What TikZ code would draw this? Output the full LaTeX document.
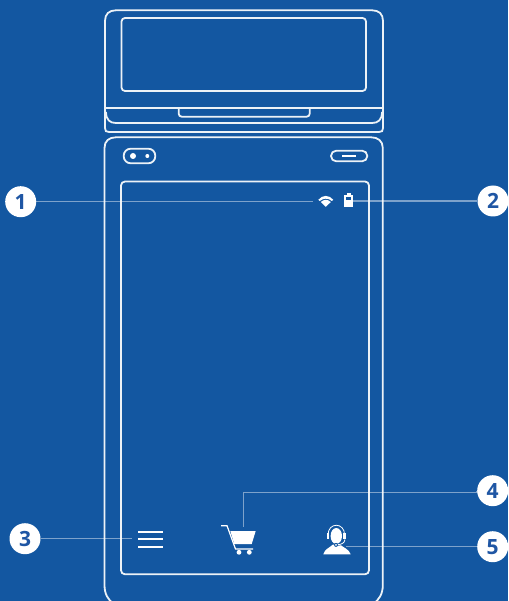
\documentclass[tikz,border=0pt]{standalone}
\usepackage{fontspec}
\setmainfont{Open Sans}
\definecolor{bg}{HTML}{1357A1}
\definecolor{numc}{HTML}{1F56A4}
\tikzset{
  outline/.style={draw=white!92!bg,line width=1.8pt},
  leader/.style={draw=white,draw opacity=0.45,line width=1.1pt},
  num/.style={circle,fill=white,minimum size=31pt,inner sep=0pt,text=numc,font=\fontsize{21}{21}\selectfont\bfseries},
  iconline/.style={draw=white,line width=2pt},
}
\begin{document}
\begin{tikzpicture}[x=1pt,y=-1pt]
\useasboundingbox (0,0) rectangle (508,601);
\clip (0,0) rectangle (508,601);
\fill[bg] (0,0) rectangle (508,601);
% upper printer unit
\draw[outline] (105,21) .. controls (105,14) and (109,10.3) .. (116,10.3) -- (372,10.3) .. controls (379,10.3) and (383,14) .. (383,21) -- (383,128) .. controls (383,131) and (382,132) .. (379,132) -- (109,132) .. controls (106,132) and (105,131) .. (105,128) -- cycle;
\draw[outline,rounded corners=3.5pt] (121.5,18) rectangle (366,91);
\draw[outline] (105,107.7) -- (383,107.7);
\draw[outline] (106,112) .. controls (106,120) and (110,123) .. (116,123) -- (372,123) .. controls (378,123) and (382,120) .. (382,112);
\draw[outline,rounded corners=3pt] (178.7,108) -- (178.7,116.7) -- (309.7,116.7) -- (309.7,108);
% main body
\draw[outline] (114,604) .. controls (108,600) and (104.5,594) .. (104.5,585) -- (104.5,148) .. controls (104.5,141) and (109,137.3) .. (116,137.3) -- (371,137.3) .. controls (378,137.3) and (382.8,141) .. (382.8,148) -- (382.8,585) .. controls (382.8,594) and (379,600) .. (373,604);
\draw[outline,rounded corners=4pt] (121,181.5) rectangle (369,574.3);
% camera pill
\draw[outline,rounded corners=7pt] (123.7,148.7) rectangle (155.3,163.3);
\fill[white] (133,156) circle[radius=3];
\fill[white] (147.3,156) circle[radius=2];
% speaker pill
\draw[outline,rounded corners=5.2pt] (331,150.7) rectangle (367.3,161.3);
\draw[draw=white,line width=2pt] (342.3,156) -- (356,156);
% wifi
\fill[white] (318.3,199.8) .. controls (322.5,194.6) and (329,194.6) .. (333.3,199.8) -- (331.9,201) .. controls (328,197.9) and (323.6,197.9) .. (319.8,201) -- cycle;
\fill[white] (320.8,202) .. controls (323.8,199.1) and (327.8,199.1) .. (330.8,202) -- (325.8,206.8) -- cycle;
% battery
\fill[white] (346.6,193.2) rectangle (350.6,195.5);
\fill[white] (344.4,195.2) rectangle (352.8,207.4);
\fill[bg] (345.8,197) rectangle (351.4,199.6);
% hamburger
\draw[iconline] (138.3,531.7) -- (163.3,531.7);
\draw[iconline] (138.3,539) -- (163.3,539);
\draw[iconline] (138.3,546.6) -- (163.3,546.6);
% cart
\draw[draw=white,line width=1.2pt] (221,525.7) -- (227,525.7) -- (235.5,549) -- (253,549);
\fill[white] (230.3,531) -- (255.7,531) -- (251.7,544) -- (234.3,544) -- cycle;
\fill[white] (239,552.3) circle[radius=2.4];
\fill[white] (249.3,552.3) circle[radius=2.4];
% agent
\fill[white] (323.3,554.3) .. controls (324.5,549) and (330,547.5) .. (333,544.5) -- (340,544.5) .. controls (343,547.5) and (349,549) .. (350.7,554.3) -- cycle;
\fill[white] (336.3,536) ellipse[x radius=5.7,y radius=8];
\draw[draw=white,line width=0.8pt] (328,535) .. controls (328,522) and (344.6,522) .. (344.6,535);
\fill[white] (327,533) rectangle (329.4,538.5);
\fill[white] (343.3,533) rectangle (345.7,538.5);
\draw[draw=bg,line width=2pt] (345,539.5) .. controls (344.5,543.5) and (341,544.5) .. (337,544.8);
\draw[draw=white,line width=0.8pt] (345,539.5) .. controls (344.5,543.5) and (341,544.5) .. (337,544.8);
\fill[bg] (336,544.9) circle[radius=2];
\fill[white] (336,544.9) circle[radius=1];
% markers
\node[num] (n1) at (20.7,201.7) {1};
\node[num] (n2) at (493,201) {2};
\node[num] (n3) at (25,538.7) {3};
\node[num] (n4) at (492.7,490.7) {4};
\node[num] (n5) at (492.7,546.7) {5};
\coordinate (c1) at (313,201.7);
\coordinate (c2) at (353,201);
\coordinate (c3) at (132,538.7);
\coordinate (c4) at (243.3,527);
\coordinate (c5) at (346,546.7);
\draw[leader] (n1.east) -- (c1);
\draw[leader] (n2.west) -- (c2);
\draw[leader] (n3.east) -- (c3);
\draw[leader] (n4.west) -- ++(0,1.5) -| (c4);
\draw[leader] (n5.west) -- (c5);
\end{tikzpicture}
\end{document}
